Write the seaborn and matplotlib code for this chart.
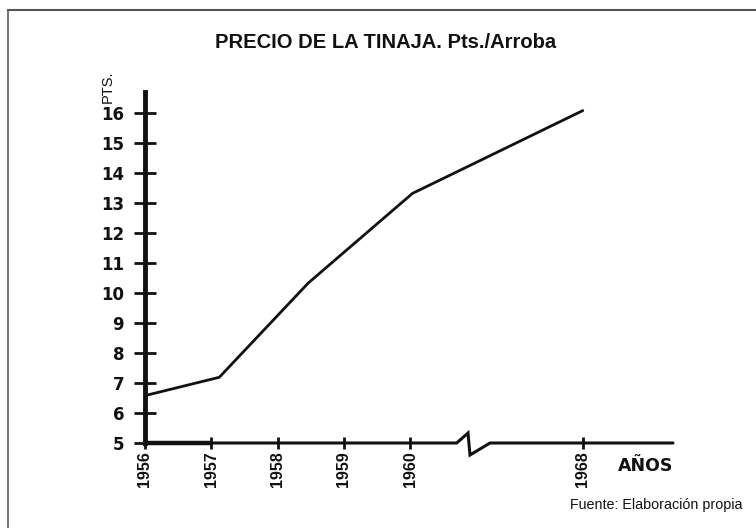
import numpy as np
import pandas as pd
import matplotlib
matplotlib.use("Agg")
import matplotlib.pyplot as plt
import seaborn as sns
from matplotlib.lines import Line2D

# ---- data ----
years = [1956.0, 1957.12, 1958.46, 1960.10, 1968.0]
prices = [6.58, 7.19, 10.33, 13.32, 16.08]
x_ticks = [1956, 1957, 1958, 1959, 1960, 1968]
y_ticks = list(range(5, 17))

title = "PRECIO DE LA TINAJA. Pts./Arroba"
y_label = "PTS."
x_label = "AÑOS"
source = "Fuente: Elaboración propia"

df = pd.DataFrame({"year": years, "price": prices})

sns.set_style("white")
plt.rcParams["font.family"] = ["Liberation Sans", "DejaVu Sans"]

# broken x scale: 1956-1960 linear, then compressed after 1960
K = 0.325
def fwd(x):
    x = np.asarray(x, dtype=float)
    return np.where(x <= 1960, x - 1956, 4 + (x - 1960) * K)
def inv(p):
    p = np.asarray(p, dtype=float)
    return np.where(p <= 4, p + 1956, 1960 + (p - 4) / K)

fig = plt.figure(figsize=(7.56, 5.28), dpi=100)
ax = fig.add_axes([145/756, 1 - 443/528, 528/756, (443 - 92)/528])
ax.set_xscale("function", functions=(fwd, inv))

sns.lineplot(data=df, x="year", y="price", ax=ax, color="#111111", lw=2.0)

ax.set_xlim(1956, float(inv(7.96)))
ax.set_ylim(5, 16.7)
ax.set_xlabel("")
ax.set_ylabel("")

for s in ["top", "right", "bottom"]:
    ax.spines[s].set_visible(False)
ax.spines["left"].set_linewidth(3.5)
ax.spines["left"].set_color("#111111")

ax.set_yticks(y_ticks)
ax.set_yticklabels([str(v) for v in y_ticks], fontsize=12, fontweight="bold",
                   family=["DejaVu Sans"])
ax.tick_params(axis="y", left=True, direction="inout", length=16, width=2,
               color="#111111", pad=7, labelcolor="#111111")

ax.set_xticks(x_ticks)
ax.set_xticklabels([str(v) for v in x_ticks], rotation=90, fontsize=11.5, fontweight="bold",
                   family=["Liberation Sans Narrow", "Liberation Sans", "DejaVu Sans"])
ax.tick_params(axis="x", bottom=True, direction="inout", length=8, width=2,
               color="#111111", pad=2, labelcolor="#111111")
ax.minorticks_off()

# bottom axis line with break symbol (axes coords)
tr = ax.transAxes
def ax_x(px):
    return (px - 145) / 528
def ax_y(py):
    return (443 - py) / (443 - 92)
bx = [ax_x(p) for p in [145, 456.7, 468, 470, 490, 673]]
by = [ax_y(p) for p in [443, 443, 433, 455, 443, 443]]
ax.add_line(Line2D(bx, by, transform=tr, color="#111111", lw=2.2, clip_on=False,
                   solid_joinstyle="miter"))
# slightly heavier first segment of the baseline, as in the original print
ax.add_line(Line2D([0, ax_x(211)], [0, 0], transform=tr, color="#111111", lw=3.2,
                   clip_on=False))

# texts
fig.text(386/756, 1 - 43/528, title, ha="center", va="center", fontsize=14.5,
         fontweight="bold", color="#111111")
fig.text(108/756, 1 - 87/528, y_label, ha="center", va="center", rotation=90,
         fontsize=10.5, color="#111111")
fig.text(646/756, 1 - 466/528, x_label, ha="center", va="center", fontsize=12.5,
         fontweight="bold", family=["DejaVu Sans"], color="#111111")
fig.text(742/756, 1 - 505/528, source, ha="right", va="center", fontsize=10.3,
         color="#111111")

# frame lines (left and top)
fig.add_artist(Line2D([8/756, 8/756], [0, 1 - 10/528], transform=fig.transFigure,
                      color="#777777", lw=1.5))
fig.add_artist(Line2D([8/756, 1], [1 - 10/528, 1 - 10/528], transform=fig.transFigure,
                      color="#555555", lw=1.5))

fig.savefig("out.png", dpi=100)
